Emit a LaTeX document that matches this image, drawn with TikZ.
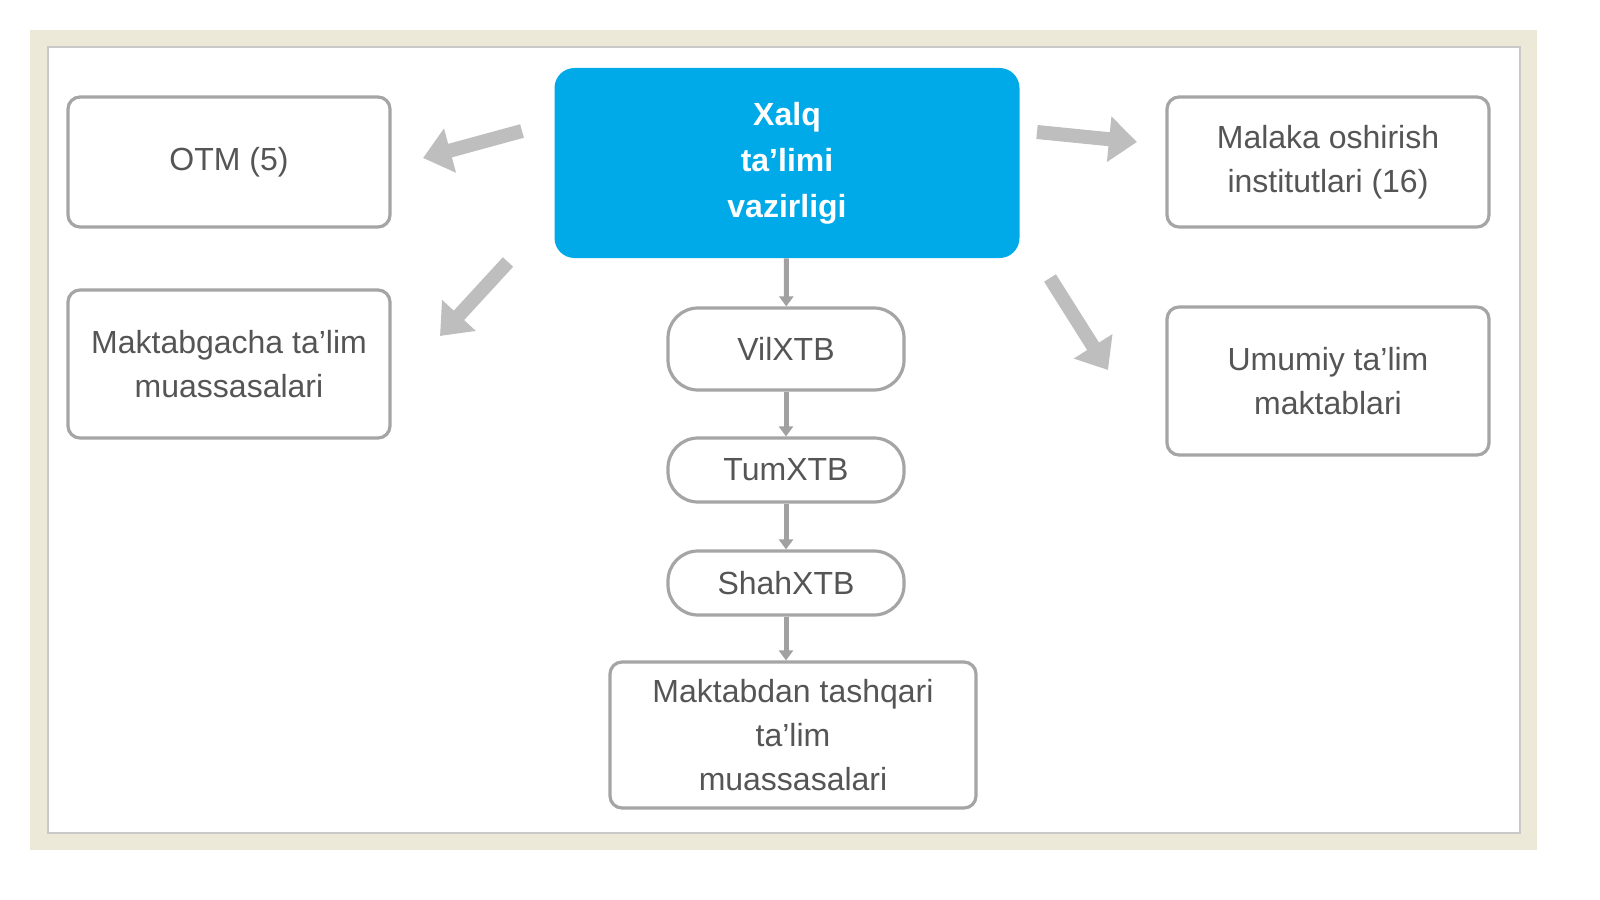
\documentclass[tikz,border=0pt]{standalone}
\usepackage{fontspec}
\setmainfont{Liberation Sans}
\usetikzlibrary{arrows.meta}
\newcommand\ap{\char"0027\relax}
\definecolor{frameband}{RGB}{236,233,216}
\definecolor{boxline}{RGB}{165,165,165}
\definecolor{boxtext}{RGB}{85,85,85}
\definecolor{headblue}{RGB}{0,170,232}
\definecolor{arrowgray}{RGB}{190,190,190}
\tikzset{
  box/.style={draw=boxline, line width=1.6pt, rounded corners=6pt, fill=white,
    text=boxtext, align=center, font=\fontsize{16}{22}\selectfont},
  pill/.style={box, rounded corners=15pt},
  bigarrow/.style={arrowgray, line width=7pt, -{Triangle[width=22pt,length=14pt]}},
  smallarrow/.style={draw=arrowgray!85!black, line width=2.5pt, -{Triangle[width=7pt,length=5pt]}}
}
\begin{document}
\begin{tikzpicture}[x=0.5pt,y=0.5pt,yscale=-1]
    \clip (0,0) rectangle (1600,899);
    \useasboundingbox (0,0) rectangle (1600,899);
    \fill[white] (0,0) rectangle (1600,899);

    % frame
    \fill[frameband] (30,30) rectangle (1537,850);
    \draw[fill=white, draw=boxline!60, line width=0.8pt] (48,47) rectangle (1520,833);

    % head
    \node[fill=headblue, rounded corners=10pt, minimum width=232.5pt, minimum height=95pt,
      text=white, align=center, font=\fontsize{16}{23}\selectfont\bfseries]
      (xtv) at (787,163) {Xalq\\ta\ap limi\\vazirligi};

    % side boxes
    \node[box, minimum width=161pt, minimum height=65pt] (otm) at (229,162) {OTM (5)};
    \node[box, minimum width=161pt, minimum height=74pt] (mtm) at (229,364) {Maktabgacha ta\ap lim\\muassasalari};
    \node[box, minimum width=161pt, minimum height=65pt] (moi) at (1328,162) {Malaka oshirish\\institutlari (16)};
    \node[box, minimum width=161pt, minimum height=74pt] (utm) at (1328,381) {Umumiy ta\ap lim\\maktablari};

    % central chain
    \node[pill, minimum width=118pt, minimum height=41pt] (vil) at (786,349) {VilXTB};
    \node[pill, minimum width=118pt, minimum height=32pt] (tum) at (786,470) {TumXTB};
    \node[pill, minimum width=118pt, minimum height=32pt] (shah) at (786,583) {ShahXTB};
    \node[box, minimum width=183pt, minimum height=73pt] (mtq) at (793,735) {Maktabdan tashqari\\ta\ap lim\\muassasalari};

    \draw[smallarrow] (xtv) -- (vil);
    \draw[smallarrow] (vil) -- (tum);
    \draw[smallarrow] (tum) -- (shah);
    \draw[smallarrow] (shah) -- (mtq.north -| shah.south);

    % side arrows
    \coordinate (a1s) at (522,131); \coordinate (a1e) at (423,158);
    \coordinate (a2s) at (508,262); \coordinate (a2e) at (440,336);
    \coordinate (a3s) at (1037,132); \coordinate (a3e) at (1137,142);
    \coordinate (a4s) at (1050,278); \coordinate (a4e) at (1108,370);
    \draw[bigarrow] (a1s) -- (a1e);
    \draw[bigarrow] (a2s) -- (a2e);
    \draw[bigarrow] (a3s) -- (a3e);
    \draw[bigarrow] (a4s) -- (a4e);
\end{tikzpicture}
\end{document}
